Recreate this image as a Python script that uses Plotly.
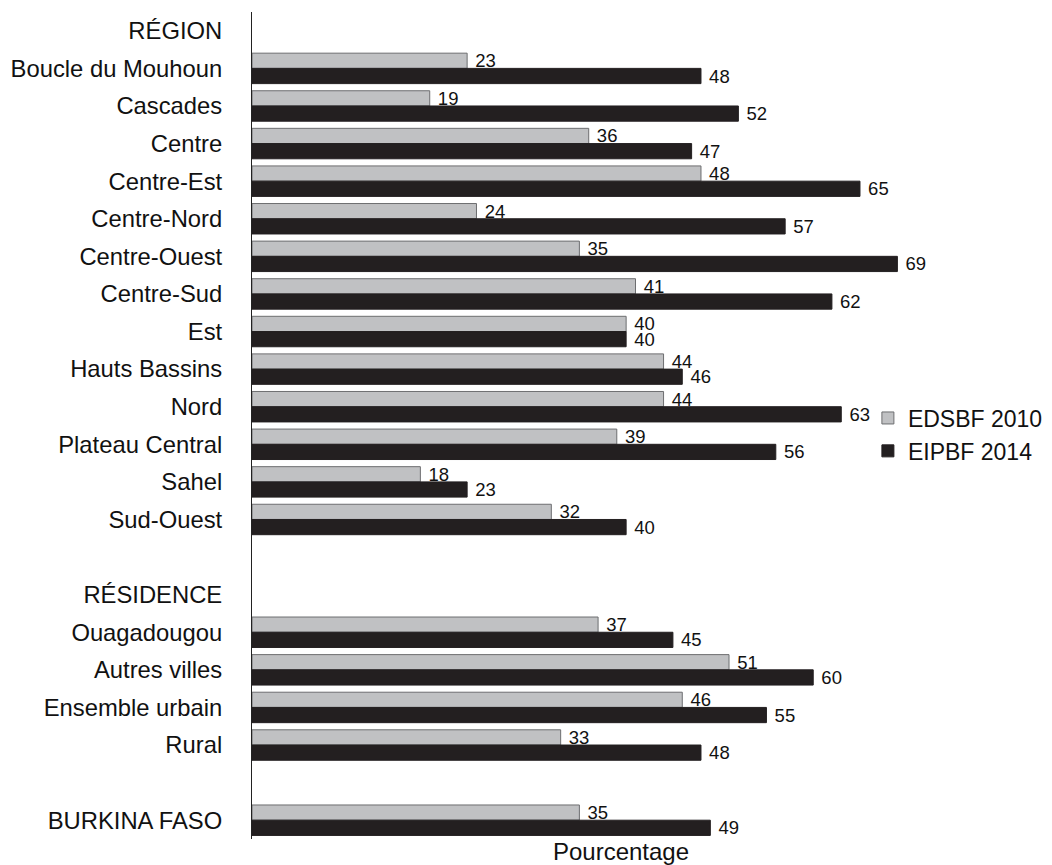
import plotly.graph_objects as go

# Pourcentage par région, milieu de résidence et ensemble national
regions = ["Boucle du Mouhoun", "Cascades", "Centre", "Centre-Est", "Centre-Nord",
           "Centre-Ouest", "Centre-Sud", "Est", "Hauts Bassins", "Nord",
           "Plateau Central", "Sahel", "Sud-Ouest"]
regions_2010 = [23, 19, 36, 48, 24, 35, 41, 40, 44, 44, 39, 18, 32]
regions_2014 = [48, 52, 47, 65, 57, 69, 62, 40, 46, 63, 56, 23, 40]

residences = ["Ouagadougou", "Autres villes", "Ensemble urbain", "Rural"]
residences_2010 = [37, 51, 46, 33]
residences_2014 = [45, 60, 55, 48]

national = ["BURKINA FASO"]
national_2010 = [35]
national_2014 = [49]

series_names = ["EDSBF 2010", "EIPBF 2014"]

# Rows from top to bottom: section headers and spacer rows carry no bars
rows = (["RÉGION"] + regions + ["", "RÉSIDENCE"] + residences + [""] + national)
tick_pos = list(range(len(rows)))

labels = regions + residences + national
vals_2010 = regions_2010 + residences_2010 + national_2010
vals_2014 = regions_2014 + residences_2014 + national_2014
y_pos = [rows.index(lbl) for lbl in labels]

fig = go.Figure()
fig.add_trace(go.Bar(
    name=series_names[0], y=y_pos, x=vals_2010, orientation="h",
    marker=dict(color="#c0c1c3", line=dict(color="#6d6e70", width=1)),
    text=vals_2010, texttemplate=" %{x}", textposition="outside",
    constraintext="none",
    textfont=dict(size=18.5, color="#111111"), cliponaxis=False,
))
fig.add_trace(go.Bar(
    name=series_names[1], y=y_pos, x=vals_2014, orientation="h",
    marker=dict(color="#231f20", line=dict(color="#231f20", width=1)),
    text=vals_2014, texttemplate=" %{x}", textposition="outside",
    constraintext="none",
    textfont=dict(size=18.5, color="#111111"), cliponaxis=False,
))

fig.update_layout(
    width=1052, height=865,
    barmode="group", bargap=0.19, bargroupgap=0,
    plot_bgcolor="white", paper_bgcolor="white",
    font=dict(family="Liberation Sans, Arial, sans-serif", size=23, color="#111111"),
    margin=dict(l=252, r=62, t=12, b=26, autoexpand=False),
    legend=dict(xref="container", yref="container", x=0.825, y=0.5416,
                xanchor="left", yanchor="top",
                font=dict(size=23), bgcolor="rgba(0,0,0,0)", tracegroupgap=0),
    xaxis=dict(range=[0, 78.9], showticklabels=False, showgrid=False,
               zeroline=False, showline=False, ticks="", automargin=False,
               title=dict(text="Pourcentage", standoff=6,
                          font=dict(size=24))),
    yaxis=dict(tickmode="array", tickvals=tick_pos, ticktext=rows,
               range=[len(rows) - 0.5, -0.5], showgrid=False, zeroline=False,
               showline=True, linecolor="#222222", linewidth=1, ticks="",
               automargin=False,
               ticklabelstandoff=24, tickfont=dict(size=23.8)),
)

fig.write_html("out.html")
